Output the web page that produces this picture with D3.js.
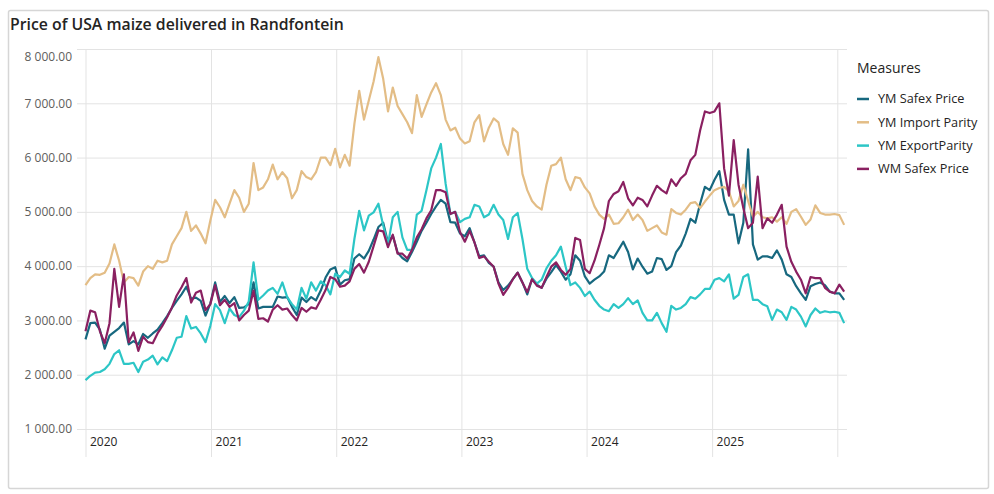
<!DOCTYPE html>
<html>
<head>
<meta charset="utf-8">
<script src="https://cdn.jsdelivr.net/npm/d3@7"></script>
<style>
body { margin: 0; background: #fff; }
svg { font-family: "Open Sans", "Noto Sans", sans-serif; }
</style>
</head>
<body>
<div id="chart"></div>
<script>
// fortnightly readings from 2020-01-01
var firstDate = new Date(2020, 0, 1);
var yearTicks = [2020, 2021, 2022, 2023, 2024, 2025, 2026];
var yTicks = [1000, 2000, 3000, 4000, 5000, 6000, 7000, 8000];
var measures = ["YM Safex Price", "YM Import Parity", "YM ExportParity", "WM Safex Price"];
var colors = ["#17687f", "#e3bd86", "#2cc6c6", "#8a2061"];

var ymSafex = [2650, 2950, 2960, 2830, 2480, 2720, 2790, 2860, 2960, 2560, 2620, 2560, 2750, 2680, 2760, 2830, 2950, 3080, 3230, 3360,
	3480, 3620, 3400, 3420, 3360, 3090, 3310, 3700, 3340, 3450, 3320, 3430, 3230, 3240, 3300, 3700, 3220, 3250, 3250,
	3250, 3440, 3420, 3430, 3250, 3100, 3420, 3340, 3430, 3370, 3550, 3790, 3940, 3980, 3660, 3740, 3760, 4140, 4220, 4140,
	4280, 4490, 4720, 4800, 4430, 4560, 4250, 4150, 4090, 4260, 4450, 4650, 4800, 4960, 5100, 5220, 5150, 4810, 4800, 4600, 4550,
	4700, 4440, 4180, 4200, 4060, 3990, 3700, 3560, 3640, 3760, 3880, 3700, 3480, 3760, 3660, 3600, 3770, 3890, 4020, 3900,
	3750, 3850, 4200, 4100, 3810, 3680, 3750, 3810, 3900, 4200, 4150, 4300, 4450, 4260, 3940, 4140, 3990, 3860, 3900, 4150, 4130,
	3930, 4000, 4260, 4380, 4600, 4870, 4800, 5150, 5460, 5400, 5590, 5750, 5220, 4950, 4950, 4420, 4800, 6150, 4400, 4120,
	4180, 4180, 4150, 4290, 4120, 3850, 3800, 3630, 3500, 3380, 3630, 3670, 3700, 3650, 3530, 3500, 3500, 3380];

var ymImport = [3650, 3780, 3850, 3840, 3880, 4050, 4400, 4100, 3700, 3800, 3780, 3640, 3900, 4000, 3950, 4100, 4070, 4100, 4400, 4550,
	4700, 5000, 4650, 4750, 4600, 4420, 4840, 5220, 5085, 4900, 5150, 5400, 5260, 5000, 5150, 5900, 5400, 5450, 5600,
	5870, 5600, 5730, 5620, 5250, 5400, 5750, 5640, 5600, 5730, 6000, 6000, 5860, 6160, 5820, 6050, 5850, 6620, 7230, 6700,
	7050, 7400, 7850, 7450, 6850, 7290, 6950, 6800, 6650, 6450, 7150, 6750, 6980, 7200, 7370, 7150, 6700, 6500, 6550, 6350, 6260,
	6300, 6650, 6780, 6300, 6550, 6720, 6650, 6250, 6050, 6540, 6460, 5700, 5400, 5200, 5100, 5040, 5500, 5850, 5880, 6000,
	5600, 5400, 5640, 5620, 5450, 5340, 5100, 4950, 4870, 4950, 4780, 4790, 4900, 5040, 4850, 4950, 4850, 4650, 4700, 4750, 4620,
	4580, 5050, 4980, 4950, 5040, 5160, 5180, 5070, 5190, 5300, 5400, 5440, 5460, 5380, 5100, 5200, 5500, 5200, 4910, 5000,
	4900, 4880, 4900, 4820, 4900, 4780, 5000, 5050, 4910, 4760, 4860, 5120, 4980, 4950, 4950, 4960, 4940, 4760];

var ymExport = [1900, 1980, 2040, 2050, 2100, 2200, 2380, 2450, 2200, 2200, 2220, 2050, 2240, 2280, 2350, 2190, 2320, 2250, 2450, 2680,
	2700, 3080, 2850, 2880, 2760, 2600, 2900, 3300, 3190, 2950, 3220, 3100, 3060, 3180, 3350, 4070, 3380, 3460, 3550,
	3600, 3490, 3700, 3430, 3300, 3200, 3600, 3400, 3700, 3550, 3720, 3650, 3480, 3860, 3800, 3920, 3860, 4500, 5020, 4660,
	4930, 4990, 5150, 4750, 4400, 4900, 5000, 4530, 4300, 4300, 4950, 5020, 5400, 5800, 6000, 6250, 5520, 4960, 5000, 4810, 4870,
	4900, 5130, 5100, 4900, 4950, 5130, 4950, 4850, 4500, 4900, 4980, 4500, 3950, 3780, 3680, 3750, 3960, 4100, 4200, 4360,
	3990, 3650, 3700, 3600, 3450, 3530, 3380, 3270, 3200, 3170, 3300, 3230, 3300, 3410, 3300, 3370, 3140, 3000, 3000, 3140, 2950,
	2790, 3270, 3200, 3230, 3300, 3430, 3400, 3480, 3580, 3580, 3750, 3780, 3720, 3850, 3400, 3470, 3800, 3850, 3380, 3380,
	3300, 3260, 3010, 3200, 3150, 3010, 3250, 3200, 3070, 2890, 3100, 3220, 3140, 3170, 3150, 3160, 3140, 2950];

var wmSafex = [2800, 3180, 3150, 2800, 2580, 2950, 3950, 3250, 3850, 2600, 2780, 2440, 2700, 2600, 2580, 2760, 2900, 3060, 3240, 3460,
	3610, 3780, 3330, 3510, 3550, 3190, 3300, 3650, 3280, 3380, 3250, 3320, 3000, 3100, 3180, 3550, 3030, 3040, 2980,
	3200, 3280, 3200, 3220, 3100, 3000, 3230, 3160, 3240, 3215, 3380, 3560, 3800, 3760, 3620, 3640, 3720, 3950, 4040, 3880,
	4080, 4370, 4660, 4640, 4350, 4580, 4230, 4230, 4140, 4300, 4530, 4680, 4880, 5030, 5400, 5400, 5360, 4960, 5000, 4630, 4450,
	4650, 4440, 4150, 4180, 4080, 3990, 3680, 3470, 3600, 3760, 3880, 3700, 3520, 3760, 3640, 3600, 3800, 3990, 4070, 3930,
	3840, 3950, 4520, 4480, 3950, 3870, 4100, 4390, 4700, 5200, 5330, 5380, 5550, 5250, 5120, 5260, 5220, 5100, 5300, 5480, 5400,
	5340, 5600, 5480, 5620, 5700, 5950, 6050, 6500, 6850, 6820, 6850, 7000, 5800, 5300, 6320, 5500, 5070, 4700, 4800, 5650,
	4700, 4880, 4800, 4950, 5130, 4360, 4080, 3900, 3750, 3500, 3800, 3780, 3780, 3600, 3530, 3500, 3660, 3530];

var series = [ymSafex, ymImport, ymExport, wmSafex];

var width = 994, height = 494;
var plotLeft = 85, plotRight = 847, plotTop = 49, plotBottom = 429, gridBottom = 457;

var fmt = d3.formatLocale({decimal: ".", thousands: " ", grouping: [3]}).format(",.2f");

var svg = d3.select("#chart")
			.append("svg")
			.attr("width", width)
			.attr("height", height);

// card
svg.append("rect")
	.attr("x", 8.5)
	.attr("y", 10.5)
	.attr("width", 980)
	.attr("height", 478)
	.attr("rx", 2)
	.attr("fill", "#fff")
	.attr("stroke", "#d6d6d6")
	.attr("stroke-width", 1.5);

svg.append("text")
	.attr("x", 10)
	.attr("y", 30)
	.attr("font-size", 15.8)
	.attr("font-weight", 600)
	.attr("fill", "#252423")
	.text("Price of USA maize delivered in Randfontein");

var x = d3.scaleTime()
		  .domain([new Date(2020, 0, 1), new Date(2026, 0, 1)])
		  .range([85.5, 837.3]);

var y = d3.scaleLinear()
		  .domain([1000, 8000])
		  .range([plotBottom, plotTop]);

var dates = ymSafex.map(function(d, i) { return d3.timeDay.offset(firstDate, 14 * i); });

// y axis + horizontal grid
var yAxis = svg.append("g")
			   .attr("transform", "translate(" + plotLeft + ",0)")
			   .call(d3.axisLeft(y)
					   .tickValues(yTicks)
					   .tickSize(-(plotRight - plotLeft))
					   .tickPadding(13)
					   .tickFormat(fmt));
yAxis.select(".domain").remove();
yAxis.selectAll("line")
	 .attr("x1", -8)
	 .attr("stroke", "#e3e3e3");
yAxis.selectAll("text")
	 .attr("font-family", "Open Sans, sans-serif")
	 .attr("font-size", 12)
	 .attr("fill", "#605e5c")
	 .attr("dy", function(d) { return d === 8000 ? "0.95em" : "0.32em"; });

// x axis + year grid
var xAxis = svg.append("g")
			   .attr("transform", "translate(0," + gridBottom + ")")
			   .call(d3.axisBottom(x)
					   .tickValues(yearTicks.map(function(yr) { return new Date(yr, 0, 1); }))
					   .tickSize(-(gridBottom - plotTop))
					   .tickFormat(d3.timeFormat("%Y")));
xAxis.select(".domain").remove();
xAxis.selectAll("line")
	 .attr("stroke", "#e3e3e3");
xAxis.selectAll("text")
	 .attr("font-family", "Open Sans, sans-serif")
	 .attr("font-size", 12)
	 .attr("fill", "#252423")
	 .attr("text-anchor", "start")
	 .attr("x", 4)
	 .attr("y", -15)
	 .attr("dy", "0.32em");
xAxis.selectAll(".tick")
	 .filter(function(d) { return d.getFullYear() === 2026; })
	 .select("text")
	 .remove();

var line = d3.line()
			 .x(function(d, i) { return x(dates[i]); })
			 .y(function(d) { return y(d); });

svg.append("g")
	.selectAll("path")
	.data(series)
	.enter()
	.append("path")
	.attr("d", function(d) { return line(d); })
	.attr("fill", "none")
	.attr("stroke", function(d, i) { return colors[i]; })
	.attr("stroke-width", 2.2)
	.attr("stroke-linejoin", "round");

// legend
var legend = svg.append("g")
				.attr("transform", "translate(857,0)");
legend.append("text")
	  .attr("x", 0)
	  .attr("y", 68)
	  .attr("dy", "0.35em")
	  .attr("font-size", 14)
	  .attr("fill", "#252423")
	  .text("Measures");
var item = legend.selectAll("g.item")
				 .data(measures)
				 .enter()
				 .append("g")
				 .classed("item", true)
				 .attr("transform", function(d, i) { return "translate(0," + (99 + i * 23.3) + ")"; });
item.append("line")
	.attr("x1", 0)
	.attr("x2", 12)
	.attr("stroke", function(d, i) { return colors[i]; })
	.attr("stroke-width", 2.5);
item.append("text")
	.attr("x", 21)
	.attr("dy", "0.35em")
	.attr("font-size", 12.7)
	.attr("fill", "#252423")
	.text(function(d) { return d; });
</script>
</body>
</html>
